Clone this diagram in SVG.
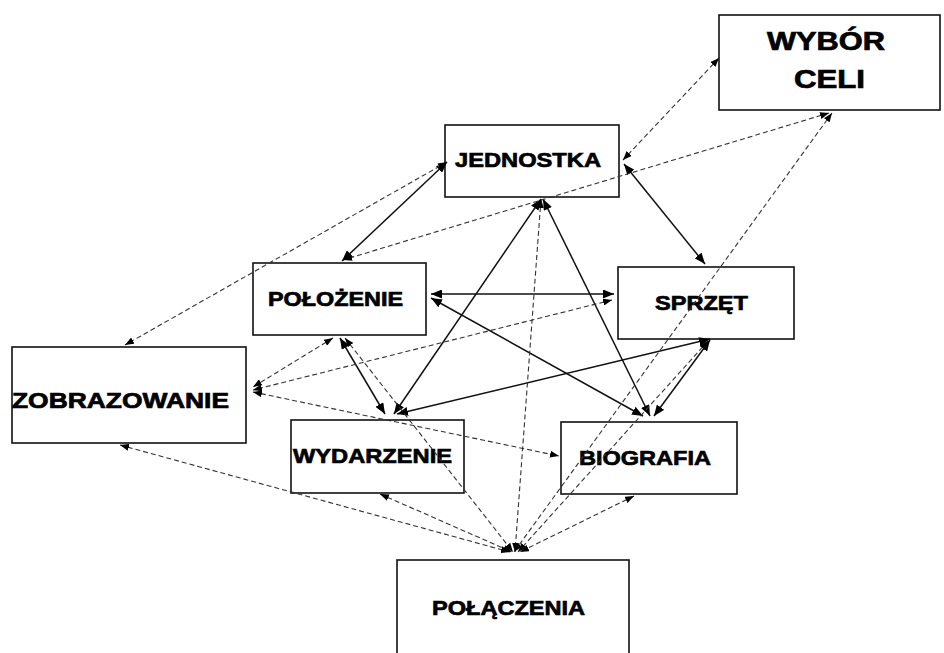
<svg xmlns="http://www.w3.org/2000/svg" width="944" height="653" viewBox="0 0 944 653">
<style>
.box{fill:#fff;stroke:#111;stroke-width:1.6}
.t{font-family:"Liberation Sans",Arial,sans-serif;font-weight:bold;fill:#000;stroke:#000;stroke-width:0.7}
.s{stroke:#111;stroke-width:1.5;fill:none;marker-start:url(#as);marker-end:url(#as)}
.d{stroke:#333;stroke-width:1.1;fill:none;stroke-dasharray:5 3;marker-start:url(#ad);marker-end:url(#ad)}
</style>
<defs>
<marker id="as" markerUnits="userSpaceOnUse" viewBox="0 0 11 9" refX="11" refY="4.5" markerWidth="11" markerHeight="9" orient="auto-start-reverse"><path d="M0,0 L11,4.5 L0,9 z" fill="#000"/></marker>
<marker id="ad" markerUnits="userSpaceOnUse" viewBox="0 0 9 7" refX="9" refY="3.5" markerWidth="9" markerHeight="7" orient="auto-start-reverse"><path d="M0,0 L9,3.5 L0,7 z" fill="#000"/></marker>
</defs>
<rect width="944" height="653" fill="#fff"/>
<g id="nodes">
<g id="wybor"><rect class="box" x="719" y="15" width="221" height="95"/><text class="t" x="767" y="50" font-size="25" textLength="118" lengthAdjust="spacingAndGlyphs">WYBÓR</text><text class="t" x="794" y="88" font-size="25" textLength="71" lengthAdjust="spacingAndGlyphs">CELI</text></g>
<g id="jednostka"><rect class="box" x="445" y="125" width="174" height="72"/><text class="t" x="455" y="167" font-size="21" textLength="146" lengthAdjust="spacingAndGlyphs">JEDNOSTKA</text></g>
<g id="polozenie"><rect class="box" x="253" y="263" width="173" height="72"/><text class="t" x="268" y="306" font-size="21" textLength="135" lengthAdjust="spacingAndGlyphs">POŁOŻENIE</text></g>
<g id="sprzet"><rect class="box" x="618" y="267" width="176" height="72"/><text class="t" x="655" y="310" font-size="21" textLength="93" lengthAdjust="spacingAndGlyphs">SPRZĘT</text></g>
<g id="zobrazowanie"><rect class="box" x="12" y="347" width="234" height="96"/><text class="t" x="12" y="408" font-size="22" textLength="217" lengthAdjust="spacingAndGlyphs">ZOBRAZOWANIE</text></g>
<g id="wydarzenie"><rect class="box" x="291" y="420" width="173" height="73"/><text class="t" x="293" y="463" font-size="21" textLength="159" lengthAdjust="spacingAndGlyphs">WYDARZENIE</text></g>
<g id="biografia"><rect class="box" x="561" y="422" width="176" height="72"/><text class="t" x="579" y="465" font-size="21" textLength="132" lengthAdjust="spacingAndGlyphs">BIOGRAFIA</text></g>
<g id="polaczenia"><rect class="box" x="397" y="560" width="232" height="110"/><text class="t" x="432" y="615" font-size="21" textLength="153" lengthAdjust="spacingAndGlyphs">POŁĄCZENIA</text></g>
</g>
<g id="connectors">
<line class="s" x1="447" y1="162" x2="342" y2="261"/>
<line class="s" x1="624" y1="164" x2="705" y2="264"/>
<line class="s" x1="431" y1="294" x2="614" y2="294"/>
<line class="s" x1="431" y1="298" x2="643" y2="416"/>
<line class="s" x1="541" y1="199" x2="394" y2="414"/>
<line class="s" x1="543" y1="199" x2="650" y2="416"/>
<line class="s" x1="340" y1="338" x2="385" y2="414"/>
<line class="s" x1="397" y1="414" x2="710" y2="339"/>
<line class="s" x1="654" y1="416" x2="710" y2="340"/>
<line class="d" x1="719" y1="58" x2="623" y2="160"/>
<line class="d" x1="829" y1="113" x2="343" y2="260"/>
<line class="d" x1="832" y1="113" x2="514" y2="552"/>
<line class="d" x1="447" y1="162" x2="125" y2="345"/>
<line class="d" x1="333" y1="338" x2="253" y2="387"/>
<line class="d" x1="612" y1="300" x2="253" y2="390"/>
<line class="d" x1="253" y1="392" x2="559" y2="456"/>
<line class="d" x1="120" y1="445" x2="510" y2="552"/>
<line class="d" x1="380" y1="494" x2="512" y2="552"/>
<line class="d" x1="345" y1="338" x2="513" y2="552"/>
<line class="d" x1="541" y1="199" x2="515" y2="552"/>
<line class="d" x1="708" y1="341" x2="518" y2="552"/>
<line class="d" x1="634" y1="496" x2="520" y2="552"/>
</g>
</svg>
